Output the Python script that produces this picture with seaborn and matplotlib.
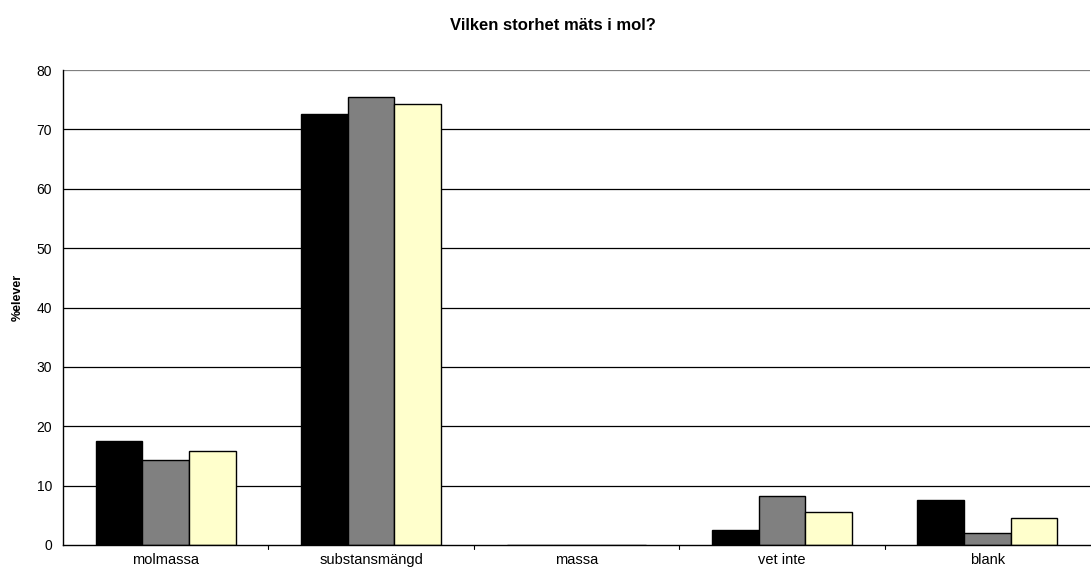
import matplotlib
matplotlib.use("Agg")
import matplotlib.pyplot as plt
import seaborn as sns
import pandas as pd

categories = ["molmassa", "substansmängd", "massa", "vet inte", "blank"]
series_names = ["Grupp 1", "Grupp 2", "Grupp 3"]
grupp1 = [17.6, 72.6, 0.0, 2.5, 7.6]
grupp2 = [14.3, 75.5, 0.0, 8.2, 2.0]
grupp3 = [15.8, 74.2, 0.0, 5.6, 4.5]
colors = ["#000000", "#808080", "#FFFFCC"]
yticks = [0, 10, 20, 30, 40, 50, 60, 70, 80]

rows = []
for name, vals in zip(series_names, [grupp1, grupp2, grupp3]):
    for cat, v in zip(categories, vals):
        rows.append({"svar": cat, "grupp": name, "andel": v})
df = pd.DataFrame(rows)

sns.set_style("white")
plt.rcParams["font.family"] = ["Liberation Sans", "DejaVu Sans"]
plt.rcParams["text.color"] = "black"
plt.rcParams["xtick.color"] = "black"
plt.rcParams["ytick.color"] = "black"
plt.rcParams["axes.labelcolor"] = "black"

fig = plt.figure(figsize=(10.91, 5.71), dpi=100)
ax = fig.add_axes([63 / 1091, 1 - 545 / 571, (1090 - 63) / 1091, (545 - 70) / 571])

sns.barplot(data=df, x="svar", y="andel", hue="grupp", order=categories,
            hue_order=series_names, palette=colors, width=0.68, saturation=1,
            edgecolor="black", linewidth=1.0, legend=False, ax=ax, errorbar=None)

ax.set_ylim(0, 80)
ax.set_xlim(-0.5, len(categories) - 0.5)
ax.set_yticks(yticks)
ax.set_yticklabels([str(t) for t in yticks], fontsize=10)
for t in yticks[1:]:
    ax.axhline(t, color="#000000" if t < 80 else "#808080", linewidth=0.9, zorder=0)

ax.set_xticks(range(len(categories)))
ax.set_xticklabels(categories, fontsize=10.5)
ax.tick_params(axis="x", length=0, pad=6)
ax.tick_params(axis="y", length=5, direction="out", width=0.8, pad=3)
for b in [i + 0.5 for i in range(len(categories) - 1)]:
    ax.plot([b, b], [0, -0.008], transform=ax.get_xaxis_transform(),
            color="black", linewidth=0.8, clip_on=False)

for side in ["top", "right"]:
    ax.spines[side].set_visible(False)
ax.spines["left"].set_color("black")
ax.spines["bottom"].set_color("black")
ax.spines["left"].set_linewidth(1.0)
ax.spines["bottom"].set_linewidth(1.0)

ax.set_xlabel("")
ax.set_ylabel("%elever", fontsize=9, fontweight="bold")
ax.yaxis.set_label_coords(-39 / (1090 - 63), 0.522)
fig.text(553 / 1091, 1 - 26 / 571, "Vilken storhet mäts i mol?",
         ha="center", va="center", fontsize=12, fontweight="bold")

fig.savefig("out.png", dpi=100, facecolor="white")
